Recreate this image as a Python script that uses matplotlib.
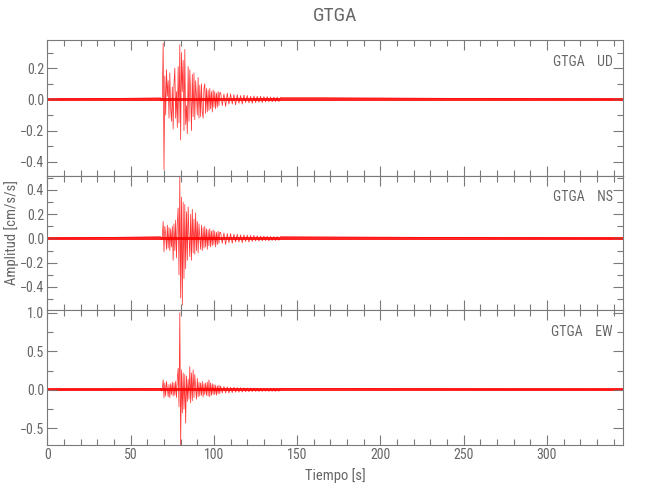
# -*- coding: utf-8 -*-
"""
	plot.py
	Three-component accelerogram of station GTGA (UD, NS, EW).
"""

import numpy as np
import matplotlib
matplotlib.use('Agg')
import matplotlib.pyplot as plt
from matplotlib.ticker import MultipleLocator

station = 'GTGA'
components = ['UD', 'NS', 'EW']

# peaks, every 0.5 s from 68 s to 103.5 s
t_strong = np.arange(68.0, 104.0, 0.5)
# then every 1 s from 104 s to 140 s
t_coda = np.arange(104.0, 141.0, 1.0)

ud_strong = [0.01, -0.01, 0.01, 0.36, -0.45, 0.15, -0.10, 0.19, 0.02, 0.12,
	-0.12, 0.17, -0.06, -0.14, 0.08, -0.19, 0.10, 0.20, -0.12, 0.05,
	-0.18, 0.21, -0.15, 0.35, -0.26, 0.30, 0.05, 0.25, -0.20, 0.32,
	-0.16, -0.04, -0.22, 0.21, -0.14, 0.19, 0.03, -0.20, 0.16, -0.11,
	0.17, -0.13, 0.12, 0.02, -0.10, 0.14, -0.12, 0.09, -0.11, 0.10,
	-0.08, -0.12, 0.07, 0.10, -0.09, 0.07, -0.08, 0.06, -0.07, 0.07,
	-0.06, 0.05, -0.08, 0.06, -0.05, 0.05, -0.06, 0.04, -0.05, 0.05,
	-0.04, 0.04]
ud_coda = [0.045, -0.04, 0.035, -0.045, 0.04, -0.03, 0.035, -0.03, 0.03, -0.035,
	0.03, -0.025, 0.025, -0.03, 0.028, -0.02, 0.025, -0.022, 0.02, -0.025,
	0.022, -0.02, 0.02, -0.018, 0.02, -0.02, 0.018, -0.016, 0.018, -0.015,
	0.016, -0.015, 0.015, -0.014, 0.015, -0.014, 0.013]

ns_strong = [0.015, -0.01, 0.01, 0.14, -0.11, 0.10, 0.03, -0.09, 0.11, -0.08,
	0.09, -0.10, 0.08, -0.07, 0.10, -0.18, 0.12, -0.10, 0.15, -0.16,
	0.13, 0.25, -0.30, 0.51, -0.49, 0.34, -0.55, 0.30, -0.33, 0.28,
	-0.25, 0.22, -0.18, 0.26, 0.02, -0.15, 0.20, -0.18, 0.24, -0.12,
	0.16, -0.13, 0.21, -0.10, 0.14, -0.12, 0.12, 0.01, -0.09, 0.11,
	-0.10, 0.09, -0.08, 0.10, -0.07, 0.08, -0.09, 0.07, -0.06, 0.08,
	-0.07, 0.06, -0.06, 0.07, -0.05, 0.06, -0.07, 0.05, -0.05, 0.06,
	-0.04, 0.05]
ns_coda = [0.05, -0.04, 0.045, -0.05, 0.04, -0.035, 0.04, -0.04, 0.035, -0.03,
	0.035, -0.03, 0.03, -0.035, 0.03, -0.025, 0.028, -0.03, 0.025, -0.025,
	0.025, -0.02, 0.022, -0.022, 0.02, -0.02, 0.02, -0.018, 0.018, -0.02,
	0.017, -0.016, 0.016, -0.017, 0.016, -0.015, 0.015]

ew_strong = [0.015, -0.015, 0.02, 0.13, -0.10, 0.09, -0.08, 0.11, 0.02, -0.09,
	0.07, -0.10, 0.08, -0.06, 0.10, -0.08, 0.09, -0.07, 0.11, -0.10,
	0.15, 0.28, -0.22, 1.00, -0.75, 0.26, -0.30, 0.22, -0.25, 0.20,
	-0.43, 0.18, -0.15, 0.14, -0.12, 0.30, -0.17, 0.22, -0.14, 0.26,
	-0.10, 0.20, 0.02, -0.12, 0.15, -0.09, 0.10, -0.08, 0.09, -0.07,
	0.11, -0.09, 0.08, -0.06, 0.09, -0.07, 0.10, -0.08, 0.13, -0.09,
	0.09, -0.07, 0.08, -0.06, 0.07, -0.06, 0.06, -0.07, 0.05, -0.05,
	0.06, -0.05]
ew_coda = [0.05, -0.04, 0.045, -0.04, 0.04, -0.04, 0.035, -0.035, 0.035, -0.03,
	0.03, -0.03, 0.03, -0.028, 0.028, -0.025, 0.025, -0.025, 0.025, -0.022,
	0.022, -0.02, 0.02, -0.022, 0.02, -0.02, 0.02, -0.018, 0.018, -0.02,
	0.02, -0.018, 0.018, -0.02, 0.018, -0.018, 0.02]

# background noise half-width on each trace
noise_level = [0.010, 0.013, 0.019]

t_start = 0.0
t_end = 345.5

y_limits = [(-0.49, 0.38), (-0.59, 0.515), (-0.714, 1.035)]
y_major = [0.2, 0.2, 0.5]
y_minor = [0.1, 0.1, 0.25]

def main():

	plt.rcParams['font.family'] = ['Liberation Sans Narrow', 'Roboto Condensed', 'DejaVu Sans']
	plt.rcParams['font.stretch'] = 'condensed'
	grey = '#7a7a7a'
	text_grey = '#666666'

	traces = [(ud_strong, ud_coda), (ns_strong, ns_coda), (ew_strong, ew_coda)]

	fig = plt.figure(figsize=(6.5, 5.0), dpi=100)
	left, right = 0.073, 0.958
	bottoms = [0.648, 0.38, 0.11]
	tops = [0.92, 0.648, 0.38]

	axes = []
	for i in range(3):
		ax = fig.add_axes([left, bottoms[i], right - left, tops[i] - bottoms[i]])
		axes.append(ax)

		strong, coda = traces[i]
		t = np.concatenate([[t_start], t_strong, t_coda, [t_end]])
		y = np.concatenate([[0.0], strong, coda, [0.0]])

		# noise band along the whole record
		n = noise_level[i]
		ax.fill_between([t_start, t_end], [-n, -n], [n, n], color='red', lw=0, alpha=0.85)
		ax.plot(t, y, color='red', lw=0.55, alpha=0.8)

		ax.set_xlim(t_start, t_end)
		ax.set_ylim(*y_limits[i])
		ax.xaxis.set_major_locator(MultipleLocator(50))
		ax.xaxis.set_minor_locator(MultipleLocator(10))
		ax.yaxis.set_major_locator(MultipleLocator(y_major[i]))
		ax.yaxis.set_minor_locator(MultipleLocator(y_minor[i]))
		ax.tick_params(which='both', direction='in', top=True, right=True,
			color=grey, labelcolor=text_grey, labelsize=10, width=0.8, pad=2.5)
		ax.tick_params(which='major', length=7)
		ax.tick_params(which='minor', length=4)
		for s in ax.spines.values():
			s.set_color(grey)
			s.set_linewidth(0.8)
		if i < 2:
			ax.tick_params(labelbottom=False)

		ax.text(0.983, 0.84, station + '    ' + components[i], transform=ax.transAxes,
			ha='right', va='center', fontsize=10, color=text_grey)

	axes[2].set_xlabel('Tiempo [s]', fontsize=10.5, color=text_grey, labelpad=4)
	fig.text(0.018, 0.535, 'Amplitud [cm/s/s]', rotation=90, ha='center', va='center',
		fontsize=10.5, color=text_grey)
	fig.text(0.515, 0.968, station, ha='center', va='center', fontsize=14, color=text_grey)

	fig.savefig('out.png', dpi=100)

if __name__ == '__main__':
	main()
